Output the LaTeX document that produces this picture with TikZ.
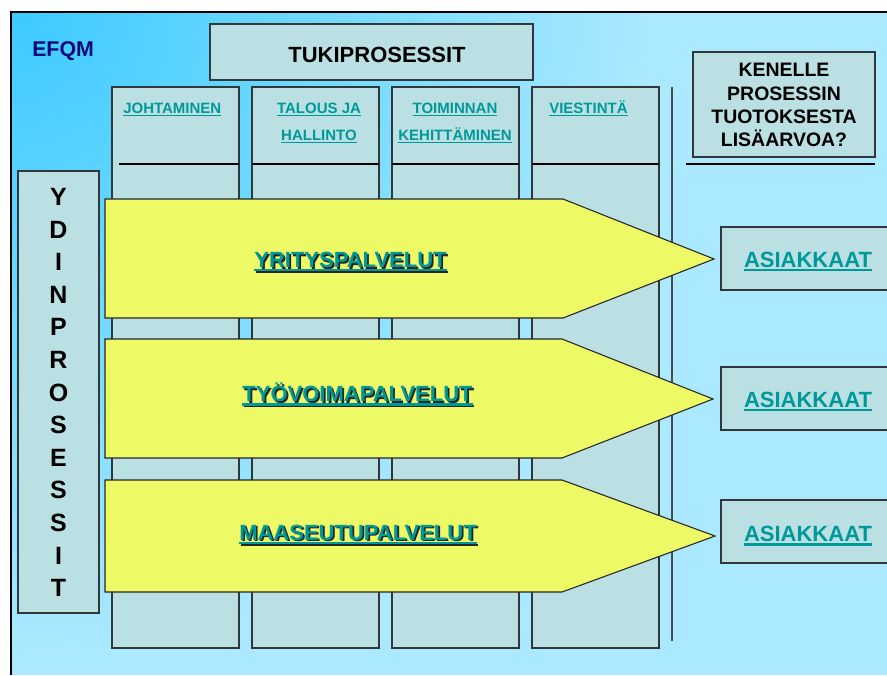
\documentclass[tikz,border=0pt]{standalone}
\usepackage{fontspec}
\setmainfont{Liberation Sans}

\definecolor{panel}{RGB}{187,224,227}
\definecolor{edge}{RGB}{50,56,58}
\definecolor{arrowyellow}{RGB}{237,250,102}
\definecolor{linkteal}{RGB}{0,153,153}
\definecolor{efqmblue}{RGB}{10,10,120}
\definecolor{bgdeep}{RGB}{60,202,255}
\definecolor{bgpale}{RGB}{170,233,255}

% underlined text: a bar in the current colour under the whole box
\newcommand\ulbar[1]{\setbox0\hbox{#1}\leavevmode\rlap{\vrule height -0.08em depth 0.19em width \wd0}\box0}
% underlined text with a dark drop shadow
\newcommand\shadowul[1]{\rlap{\kern1.3pt\raisebox{-1.3pt}{\color{black!85}\ulbar{#1}}}\ulbar{#1}}

\begin{document}
\begin{tikzpicture}[x=0.75pt,y=-0.75pt,
  panelbox/.style={draw=edge,line width=1pt,fill=panel},
  procarrow/.style={draw=black!85,line width=0.8pt,fill=arrowyellow},
  rule/.style={draw=black,line width=0.8pt},
  txt/.style={inner sep=0pt,font=\bfseries},
  colhead/.style={txt,anchor=base,text=linkteal,font=\bfseries\fontsize{11.25pt}{13pt}\selectfont},
  biglink/.style={txt,anchor=base,text=linkteal,font=\bfseries\fontsize{16.5pt}{19pt}\selectfont}]

\useasboundingbox (0,0) rectangle (887,675);
\fill[white] (0,0) rectangle (887,675);

% slide background, deep cyan in the top left corner fading out
\begin{scope}
  \clip (11,12) rectangle (887,675);
  \fill[bgpale] (11,12) rectangle (887,675);
  \shade[inner color=bgdeep,outer color=bgpale] (11,12) circle (640);
\end{scope}
\draw[black,line width=2.2pt] (11,675) -- (11,12) -- (887,12);

% support process columns
\foreach \cx in {112,252,392,532}{
  \draw[panelbox] (\cx,87) rectangle ++(127,561);
}
\draw[rule] (119,164) -- (239,164);
\draw[rule] (252,164) -- (379,164);
\draw[rule] (392,164) -- (519,164);
\draw[rule] (532,164) -- (659,164);

\node[colhead,anchor=base west] (johto) at (123,113.5) {\ulbar{JOHTAMINEN}};
\node[colhead] (talous) at (319,113.5) {\ulbar{TALOUS JA}};
\node[colhead] (hallinto) at (319,140.5) {\ulbar{HALLINTO}};
\node[colhead] (toiminnan) at (455,113.5) {\ulbar{TOIMINNAN}};
\node[colhead] (kehitt) at (455,140.5) {\ulbar{KEHITTÄMINEN}};
\node[colhead,anchor=base west] (viestinta) at (549,113.5) {\ulbar{VIESTINTÄ}};

% separator towards the customer side
\draw[draw=black!70,line width=0.9pt] (672,87) -- (672,641);
\draw[rule] (686,164) -- (875,164);

% title boxes
\draw[panelbox] (210,24) rectangle (533,80);
\node[txt,anchor=base,font=\bfseries\fontsize{16.5pt}{19pt}\selectfont] (tuki) at (377,62.7) {TUKIPROSESSIT};

\node[txt,anchor=base west,text=efqmblue,font=\bfseries\fontsize{16pt}{19pt}\selectfont] (efqm) at (32,56.7) {EFQM};

\draw[panelbox] (693,52) rectangle (875,157);
\node[txt,align=center,font=\bfseries\fontsize{14.6pt}{17.5pt}\selectfont] (kenelle) at (784,105.3)
  {KENELLE\\PROSESSIN\\TUOTOKSESTA\\LISÄARVOA?};

% core process label
\draw[panelbox] (18,171) rectangle (99,613);
\node[txt,align=center,font=\bfseries\fontsize{18.75pt}{24.45pt}\selectfont] (ydin) at (58.5,392.5)
  {Y\\D\\I\\N\\P\\R\\O\\S\\E\\S\\S\\I\\T};

% core process arrows
\draw[procarrow] (105,199) -- (563,199) -- (714,259) -- (563,318) -- (105,318) -- cycle;
\draw[procarrow] (105,339) -- (562,339) -- (713,399) -- (562,458) -- (105,458) -- cycle;
\draw[procarrow] (105,480) -- (562,480) -- (715,536) -- (562,592) -- (105,592) -- cycle;

\node[biglink] (yritys) at (350.5,267.3) {\shadowul{YRITYSPALVELUT}};
\node[biglink] (tyovoima) at (357.5,401.5) {\shadowul{TYÖVOIMAPALVELUT}};
\node[biglink] (maaseutu) at (358,540) {\shadowul{MAASEUTUPALVELUT}};

% customers
\draw[panelbox] (721,227) rectangle (893,290);
\draw[panelbox] (721,367) rectangle (893,430);
\draw[panelbox] (721,500) rectangle (893,563);
\node[biglink] (asiakas1) at (808,267) {\ulbar{ASIAKKAAT}};
\node[biglink] (asiakas2) at (808,407) {\ulbar{ASIAKKAAT}};
\node[biglink] (asiakas3) at (808,541.5) {\ulbar{ASIAKKAAT}};

\end{tikzpicture}
\end{document}
